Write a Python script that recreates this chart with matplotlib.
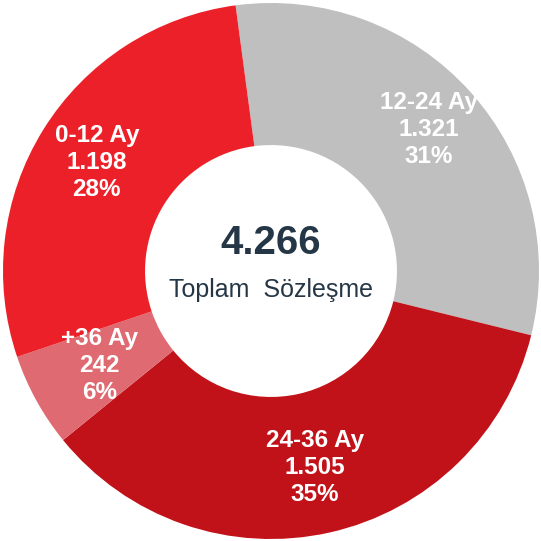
import matplotlib
matplotlib.use("Agg")
import numpy as np
import matplotlib.pyplot as plt

# data
categories = ["12-24 Ay", "24-36 Ay", "+36 Ay", "0-12 Ay"]
counts = [1321, 1505, 242, 1198]
count_labels = ["1.321", "1.505", "242", "1.198"]
pct_labels = ["31%", "35%", "6%", "28%"]
total_label = "4.266"
center_caption = "Toplam  Sözleşme"

colors = ["#BFBFBF", "#C11219", "#DF6A72", "#EC2028"]
label_radius = [0.79, 0.75, 0.73, 0.765]


def plot_donut(output_image):
    plt.rcParams['font.family'] = ['Liberation Sans', 'DejaVu Sans']

    fig = plt.figure(figsize=(5.41, 5.41), dpi=100)
    ax = fig.add_axes([0, 0, 1, 1])

    wedges, _ = ax.pie(counts, colors=colors, startangle=97.6, counterclock=False,
                       radius=1.0, wedgeprops=dict(width=0.53, linewidth=0))

    for w, cat, cnt, pct, r in zip(wedges, categories, count_labels, pct_labels, label_radius):
        mid = np.deg2rad((w.theta1 + w.theta2) / 2)
        x, y = r * np.cos(mid), r * np.sin(mid)
        ax.text(x, y, f"{cat}\n{cnt}\n{pct}", ha='center', va='center', color='white',
                fontsize=17.5, fontweight='bold', linespacing=1.22)

    ax.text(0, 0.105, total_label, ha='center', va='center', color='#253746',
            fontsize=29, fontweight='bold')
    ax.text(0, -0.07, center_caption, ha='center', va='center', color='#253746',
            fontsize=18)

    ax.set_xlim(-271 / 268, 270 / 268)
    ax.set_ylim(-270 / 268, 271 / 268)
    ax.set_aspect('auto')
    ax.axis('off')

    fig.savefig(output_image, dpi=100, facecolor='white')


if __name__ == "__main__":
    plot_donut("out.png")
